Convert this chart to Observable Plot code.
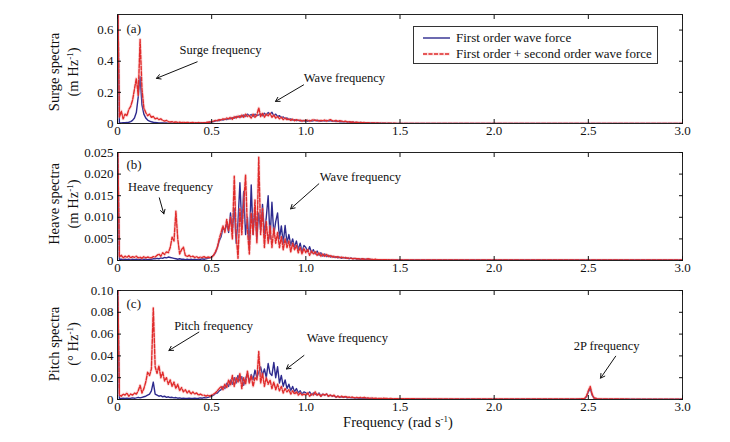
<!DOCTYPE html>
<html><head><meta charset="utf-8">
<script src="https://cdn.jsdelivr.net/npm/d3@7"></script>
<script src="https://cdn.jsdelivr.net/npm/@observablehq/plot@0.6"></script>
<style>
body{margin:0;background:#fff;}
#chart{position:relative;width:730px;height:442px;font-family:"Liberation Serif","Times New Roman",serif;color:#111;}
.panel{position:absolute;left:0;}
#legend{position:absolute;left:413px;top:26px;width:243px;height:36px;border:1px solid #333;background:#fff;font-size:13px;}
#legend .row{position:absolute;left:9px;height:15px;display:flex;align-items:center;white-space:nowrap;}
#legend svg{margin-right:6px;}
</style></head><body><div id="chart"><div id="legend">
<div class="row" style="top:3px"><svg width="27" height="6"><line x1="0" x2="27" y1="3" y2="3" stroke="#2d2a8e" stroke-width="1.4"/></svg>First order wave force</div>
<div class="row" style="top:19px"><svg width="27" height="6"><line x1="0" x2="27" y1="3" y2="3" stroke="#f3a0a0" stroke-width="3" stroke-opacity="0.35"/><line x1="0" x2="27" y1="3" y2="3" stroke="#e02b2b" stroke-width="1.4" stroke-dasharray="4,1.5"/></svg>First order + second order wave force</div>
</div></div>
<script>
// ---------- data ----------
const tailFreq = [1.5,1.6,1.7,1.8,1.9,2.0,2.1,2.2,2.3,2.4,2.45,2.48,2.49,2.5,2.51,2.52,2.53,2.55,2.6,2.7,2.8,2.9,3.0];
const freq = d3.range(150).map(i => +(i / 100).toFixed(2)).concat(tailFreq);

const surgeB = [
0.95,0.004,0.004,0.005,0.005,0.006,0.008,0.012,0.02,0.035,
0.07,0.17,0.30,0.12,0.06,0.035,0.022,0.015,0.011,0.008,
0.006,0.005,0.004,0.004,0.003,0.003,0.003,0.002,0.002,0.002,
0.002,0.002,0.002,0.002,0.002,0.002,0.002,0.002,0.002,0.002,
0.002,0.002,0.003,0.003,0.003,0.004,0.004,0.005,0.006,0.008,
0.01,0.012,0.016,0.02,0.018,0.025,0.022,0.028,0.025,0.032,
0.03,0.038,0.033,0.045,0.04,0.05,0.042,0.055,0.045,0.06,
0.05,0.058,0.045,0.06,0.05,0.055,0.062,0.05,0.066,0.055,
0.07,0.06,0.072,0.05,0.06,0.045,0.05,0.038,0.042,0.032,
0.035,0.025,0.03,0.022,0.025,0.018,0.022,0.016,0.02,0.015,
0.018,0.014,0.02,0.015,0.018,0.022,0.016,0.02,0.014,0.018,
0.015,0.02,0.016,0.018,0.014,0.017,0.012,0.015,0.011,0.013,
0.01,0.012,0.009,0.01,0.008,0.009,0.006,0.007,0.005,0.006,
0.005,0.004,0.005,0.004,0.003,0.004,0.003,0.002,0.003,0.002,
0.002,0.002,0.002,0.001,0.002,0.001,0.001,0.001,0.001,0.001,
0.001,0.001,0.001,0.001,0.001,0.001,0.001,0.001,0.001,0.001,0.001,0.001,0.001,0.001,0.001,0.001,0.001,0.001,0.001,0.001,0.001,0.001,0.001];
const surgeR = [
0.95,0.04,0.08,0.03,0.06,0.05,0.09,0.11,0.15,0.22,
0.29,0.18,0.54,0.22,0.10,0.07,0.05,0.06,0.04,0.045,
0.03,0.035,0.025,0.03,0.02,0.015,0.02,0.012,0.01,0.012,
0.008,0.01,0.007,0.009,0.006,0.008,0.005,0.007,0.006,0.005,
0.006,0.005,0.004,0.006,0.005,0.004,0.005,0.006,0.008,0.01,
0.012,0.015,0.02,0.018,0.025,0.022,0.03,0.026,0.035,0.03,
0.04,0.028,0.045,0.035,0.05,0.038,0.055,0.04,0.06,0.045,
0.05,0.035,0.06,0.04,0.055,0.10,0.045,0.065,0.04,0.06,
0.05,0.065,0.04,0.055,0.035,0.045,0.03,0.04,0.025,0.035,
0.025,0.03,0.02,0.028,0.018,0.025,0.02,0.022,0.015,0.02,
0.018,0.022,0.015,0.02,0.025,0.018,0.022,0.015,0.02,0.018,
0.022,0.015,0.02,0.025,0.018,0.015,0.02,0.012,0.018,0.015,
0.012,0.015,0.01,0.012,0.008,0.01,0.007,0.008,0.006,0.007,
0.005,0.006,0.004,0.005,0.004,0.003,0.004,0.003,0.003,0.002,
0.003,0.002,0.002,0.003,0.002,0.002,0.001,0.002,0.001,0.001,
0.001,0.001,0.001,0.001,0.001,0.001,0.001,0.001,0.001,0.001,0.001,0.001,0.001,0.001,0.001,0.001,0.001,0.001,0.001,0.001,0.001,0.001,0.001];

const heaveB = [
0.03,0.0003,0.0003,0.0002,0.0003,0.0002,0.0003,0.0002,0.0003,0.0002,
0.0003,0.0002,0.0003,0.0002,0.0003,0.0003,0.0002,0.0003,0.0003,0.0004,
0.0004,0.0005,0.0004,0.0006,0.0005,0.0007,0.0006,0.0008,0.0007,0.0006,
0.0005,0.0004,0.0003,0.0004,0.0003,0.0003,0.0002,0.0003,0.0002,0.0003,
0.0002,0.0003,0.0002,0.0003,0.0003,0.0004,0.0003,0.0004,0.0005,0.0006,
0.0008,0.0012,0.0018,0.003,0.0045,0.0055,0.0075,0.007,0.0085,0.0065,
0.011,0.007,0.012,0.004,0.009,0.018,0.008,0.016,0.006,0.01,
0.0035,0.0175,0.006,0.012,0.005,0.011,0.007,0.013,0.006,0.01,
0.015,0.005,0.0135,0.006,0.009,0.011,0.005,0.008,0.004,0.0081,
0.004,0.006,0.0035,0.005,0.003,0.0045,0.0025,0.004,0.002,0.0035,
0.003,0.002,0.0032,0.0018,0.0025,0.0015,0.0022,0.0012,0.0018,0.001,
0.0015,0.0009,0.0012,0.0008,0.001,0.0007,0.0009,0.0006,0.0008,0.0005,
0.0007,0.0005,0.0006,0.0004,0.0006,0.0004,0.0005,0.0003,0.0004,0.0003,
0.0004,0.0003,0.0003,0.0002,0.0003,0.0002,0.0002,0.0002,0.0002,0.0001,
0.0002,0.0001,0.0002,0.0001,0.0001,0.0001,0.0001,0.0001,0.0001,0.0001,
0.0001,0.0001,0.0001,0.0001,0.0001,0.0001,0.0001,0.0001,0.0001,0.0001,0.0001,0.0001,0.0001,0.0001,0.0001,0.0001,0.0001,0.0001,0.0001,0.0001,0.0001,0.0001,0.0001];
const heaveR = [
0.03,0.0008,0.0012,0.0006,0.001,0.0007,0.0011,0.0006,0.0009,0.0007,
0.001,0.0006,0.0008,0.0005,0.0009,0.0006,0.0008,0.0007,0.0006,0.0009,
0.0008,0.0012,0.0015,0.001,0.0018,0.0014,0.002,0.0018,0.003,0.0054,
0.0045,0.0114,0.005,0.0015,0.0025,0.0031,0.0012,0.0009,0.0012,0.0008,
0.001,0.0007,0.0009,0.0006,0.0008,0.0007,0.0009,0.0006,0.0008,0.0007,
0.0008,0.0012,0.002,0.003,0.005,0.0065,0.008,0.0065,0.0095,0.007,
0.01,0.005,0.0195,0.006,0.0005,0.012,0.006,0.013,0.0198,0.007,
0.0015,0.011,0.006,0.014,0.004,0.0239,0.006,0.012,0.003,0.009,
0.004,0.008,0.003,0.0075,0.004,0.0065,0.003,0.0055,0.0025,0.005,
0.003,0.0045,0.002,0.004,0.0025,0.0035,0.0018,0.003,0.0015,0.0028,
0.0018,0.0025,0.0012,0.0022,0.0015,0.002,0.0012,0.0018,0.001,0.0015,
0.001,0.0014,0.0009,0.0012,0.0008,0.001,0.0007,0.0009,0.0006,0.0008,
0.0006,0.0007,0.0005,0.0006,0.0005,0.0004,0.0005,0.0004,0.0004,0.0003,
0.0004,0.0003,0.0003,0.0004,0.0003,0.0003,0.0002,0.0003,0.0002,0.0002,
0.0002,0.0002,0.0002,0.0002,0.0002,0.0001,0.0002,0.0001,0.0001,0.0001,
0.0001,0.0001,0.0001,0.0001,0.0001,0.0001,0.0001,0.0001,0.0001,0.0001,0.0001,0.0001,0.0001,0.0001,0.0001,0.0001,0.0001,0.0001,0.0001,0.0001,0.0001,0.0001,0.0001];

const pitchB = [
0.12,0.001,0.001,0.0012,0.001,0.0012,0.001,0.0012,0.0015,0.0012,
0.0015,0.002,0.0015,0.002,0.0025,0.003,0.004,0.005,0.008,0.016,
0.005,0.004,0.003,0.0035,0.0025,0.003,0.002,0.0025,0.0018,0.002,
0.0015,0.0018,0.0012,0.0015,0.001,0.0012,0.001,0.001,0.0012,0.001,
0.001,0.0012,0.001,0.0012,0.0015,0.0012,0.0018,0.0015,0.002,0.0025,
0.003,0.004,0.0055,0.006,0.008,0.009,0.012,0.01,0.015,0.012,
0.018,0.014,0.02,0.015,0.022,0.017,0.021,0.013,0.019,0.024,
0.016,0.023,0.018,0.027,0.02,0.025,0.03,0.022,0.028,0.02,
0.033,0.024,0.022,0.034,0.02,0.03,0.015,0.022,0.012,0.018,
0.01,0.014,0.008,0.012,0.007,0.01,0.006,0.008,0.005,0.007,
0.006,0.005,0.007,0.004,0.006,0.005,0.004,0.006,0.003,0.005,
0.004,0.005,0.003,0.004,0.003,0.0035,0.002,0.003,0.002,0.0025,
0.002,0.0025,0.0015,0.002,0.0015,0.0018,0.0012,0.0015,0.001,0.0012,
0.001,0.0012,0.001,0.001,0.0008,0.001,0.0008,0.0008,0.0006,0.0007,
0.0006,0.0007,0.0005,0.0006,0.0005,0.0005,0.0004,0.0005,0.0004,0.0004,
0.0004,0.0004,0.0003,0.0003,0.0003,0.0003,0.0003,0.0003,0.0003,0.0003,0.0004,0.0008,0.0025,0.007,0.010,0.004,0.0012,0.0005,0.0003,0.0003,0.0003,0.0003,0.0003];
const pitchR = [
0.12,0.004,0.003,0.005,0.004,0.006,0.003,0.005,0.004,0.006,
0.005,0.008,0.013,0.006,0.01,0.016,0.025,0.022,0.028,0.084,
0.03,0.024,0.031,0.02,0.025,0.017,0.02,0.014,0.018,0.012,
0.016,0.01,0.014,0.008,0.011,0.007,0.009,0.006,0.008,0.005,
0.007,0.005,0.006,0.004,0.005,0.004,0.004,0.003,0.004,0.003,
0.004,0.005,0.006,0.008,0.01,0.012,0.009,0.014,0.011,0.018,
0.013,0.022,0.012,0.02,0.016,0.024,0.01,0.02,0.014,0.026,
0.015,0.022,0.012,0.02,0.018,0.044,0.015,0.024,0.012,0.02,
0.014,0.018,0.01,0.016,0.009,0.014,0.008,0.012,0.006,0.01,
0.007,0.009,0.005,0.008,0.005,0.007,0.004,0.006,0.004,0.005,
0.004,0.006,0.003,0.005,0.004,0.007,0.004,0.005,0.003,0.005,
0.004,0.005,0.003,0.004,0.003,0.004,0.002,0.003,0.002,0.003,
0.002,0.003,0.002,0.002,0.002,0.002,0.0015,0.002,0.0015,0.002,
0.0015,0.002,0.0012,0.0015,0.001,0.0015,0.001,0.0012,0.001,0.001,
0.001,0.0012,0.001,0.001,0.0008,0.001,0.0008,0.0008,0.0008,0.0007,
0.0007,0.0006,0.0006,0.0005,0.0005,0.0005,0.0004,0.0004,0.0004,0.0004,0.0005,0.001,0.003,0.008,0.012,0.005,0.0015,0.0006,0.0004,0.0004,0.0003,0.0003,0.0003];

const xTicks = [0, 0.5, 1.0, 1.5, 2.0, 2.5, 3.0];
const xTickLabels = ["0", "0.5", "1.0", "1.5", "2.0", "2.5", "3.0"];
const surgeTicks = [0, 0.2, 0.4, 0.6];
const surgeTickLabels = ["0", "0.2", "0.4", "0.6"];
const heaveTicks = [0, 0.005, 0.01, 0.015, 0.02, 0.025];
const heaveTickLabels = ["0", "0.005", "0.010", "0.015", "0.020", "0.025"];
const pitchTicks = [0, 0.02, 0.04, 0.06, 0.08, 0.1];
const pitchTickLabels = ["0", "0.02", "0.04", "0.06", "0.08", "0.10"];

const panelLetters = [
  {panel: "surge", x: 0.048, y: 0.606, text: "(a)"},
  {panel: "heave", x: 0.048, y: 0.0221, text: "(b)"},
  {panel: "pitch", x: 0.048, y: 0.088, text: "(c)"}
];
const notes = [
  {panel: "surge", x: 0.547, y: 0.47, text: "Surge frequency"},
  {panel: "surge", x: 1.205, y: 0.292, text: "Wave frequency"},
  {panel: "heave", x: 0.281, y: 0.0169, text: "Heave frequency"},
  {panel: "heave", x: 1.29, y: 0.0194, text: "Wave frequency"},
  {panel: "pitch", x: 0.51, y: 0.067, text: "Pitch frequency"},
  {panel: "pitch", x: 1.22, y: 0.0566, text: "Wave frequency"},
  {panel: "pitch", x: 2.597, y: 0.0495, text: "2P frequency"}
];
const arrows = [
  {panel: "surge", x1: 0.423, y1: 0.396, x2: 0.207, y2: 0.29},
  {panel: "surge", x1: 0.988, y1: 0.248, x2: 0.839, y2: 0.142},
  {panel: "heave", x1: 0.222, y1: 0.0145, x2: 0.246, y2: 0.0108},
  {panel: "heave", x1: 1.069, y1: 0.01775, x2: 0.919, y2: 0.01196},
  {panel: "pitch", x1: 0.432, y1: 0.0618, x2: 0.273, y2: 0.045},
  {panel: "pitch", x1: 0.99, y1: 0.0404, x2: 0.897, y2: 0.028},
  {panel: "pitch", x1: 2.645, y1: 0.0397, x2: 2.565, y2: 0.0196}
];

const table = freq.map((f, i) => ({f, surgeB: surgeB[i], surgeR: surgeR[i], heaveB: heaveB[i], heaveR: heaveR[i], pitchB: pitchB[i], pitchR: pitchR[i]}));

// ---------- drawing ----------
const BLUE = "#2d2a8e", RED = "#e02b2b";
const fmt = (ticks, labels) => d => labels[ticks.indexOf(d)];
const chart = document.getElementById("chart");

const panels = [
  {key: "surge", top: 0, height: 142, mb: 19, domain: [0, 0.7], ticks: surgeTicks, labels: surgeTickLabels, name: "Surge spectra", unit: "m Hz", labelY: 72},
  {key: "heave", top: 138, height: 141, mb: 19, domain: [0, 0.025], ticks: heaveTicks, labels: heaveTickLabels, name: "Heave spectra", unit: "m Hz", labelY: 66},
  {key: "pitch", top: 276, height: 166, mb: 43, domain: [0, 0.1], ticks: pitchTicks, labels: pitchTickLabels, name: "Pitch spectra", unit: "° Hz", labelY: 68}
];

for (const p of panels) {
  const svg = Plot.plot({
    width: 730, height: p.height,
    marginLeft: 117, marginRight: 48, marginTop: 14, marginBottom: p.mb,
    x: {domain: [0, 3], label: null},
    y: {domain: p.domain, label: null},
    style: {fontFamily: '"Liberation Serif", "Times New Roman", serif', fontSize: "13px", background: "transparent", color: "#111"},
    marks: [
      Plot.line(table, {x: "f", y: p.key + "B", stroke: BLUE, strokeWidth: 1.4, clip: true}),
      Plot.line(table, {x: "f", y: p.key + "R", stroke: "#f3a0a0", strokeWidth: 3, strokeOpacity: 0.35, clip: true}),
      Plot.line(table, {x: "f", y: p.key + "R", stroke: RED, strokeWidth: 1.4, strokeDasharray: "4,1.5", clip: true}),
      Plot.frame({stroke: "#222"}),
      Plot.axisX(xTicks, {anchor: "bottom", tickSize: -4, tickPadding: 6, tickFormat: fmt(xTicks, xTickLabels), label: null}),
      Plot.axisX(xTicks, {anchor: "top", tickSize: -4, tickFormat: () => "", label: null}),
      Plot.axisY(p.ticks, {anchor: "left", tickSize: -4, tickPadding: 8, tickFormat: fmt(p.ticks, p.labels), label: null}),
      Plot.axisY(p.ticks, {anchor: "right", tickSize: -4, tickFormat: () => "", label: null}),
      Plot.text(panelLetters.filter(d => d.panel === p.key), {x: "x", y: "y", text: "text", textAnchor: "start", fontSize: 13}),
      Plot.text(notes.filter(d => d.panel === p.key), {x: "x", y: "y", text: "text", fontSize: 12.5}),
      Plot.arrow(arrows.filter(d => d.panel === p.key), {x1: "x1", y1: "y1", x2: "x2", y2: "y2", stroke: "#111", strokeWidth: 1, headLength: 7})
    ]
  });
  svg.classList.add("panel");
  svg.style.top = p.top + "px";
  const s = d3.select(svg);
  s.append("text").attr("transform", `translate(59,${p.labelY}) rotate(-90)`)
    .attr("text-anchor", "middle").attr("font-size", 14.5).attr("fill", "#111").text(p.name);
  const t2 = s.append("text").attr("transform", `translate(78,${p.labelY}) rotate(-90)`)
    .attr("text-anchor", "middle").attr("font-size", 14.5).attr("fill", "#111");
  t2.append("tspan").text("(" + p.unit);
  t2.append("tspan").attr("dy", -5).attr("font-size", 9).text("-1");
  t2.append("tspan").attr("dy", 5).text(")");
  if (p.key === "pitch") {
    const t3 = s.append("text").attr("x", 398).attr("y", 151).attr("text-anchor", "middle")
      .attr("font-size", 14.5).attr("fill", "#111");
    t3.append("tspan").text("Frequency (rad s");
    t3.append("tspan").attr("dy", -5).attr("font-size", 9).text("-1");
    t3.append("tspan").attr("dy", 5).text(")");
  }
  chart.insertBefore(svg, document.getElementById("legend"));
}
</script>
</body></html>
